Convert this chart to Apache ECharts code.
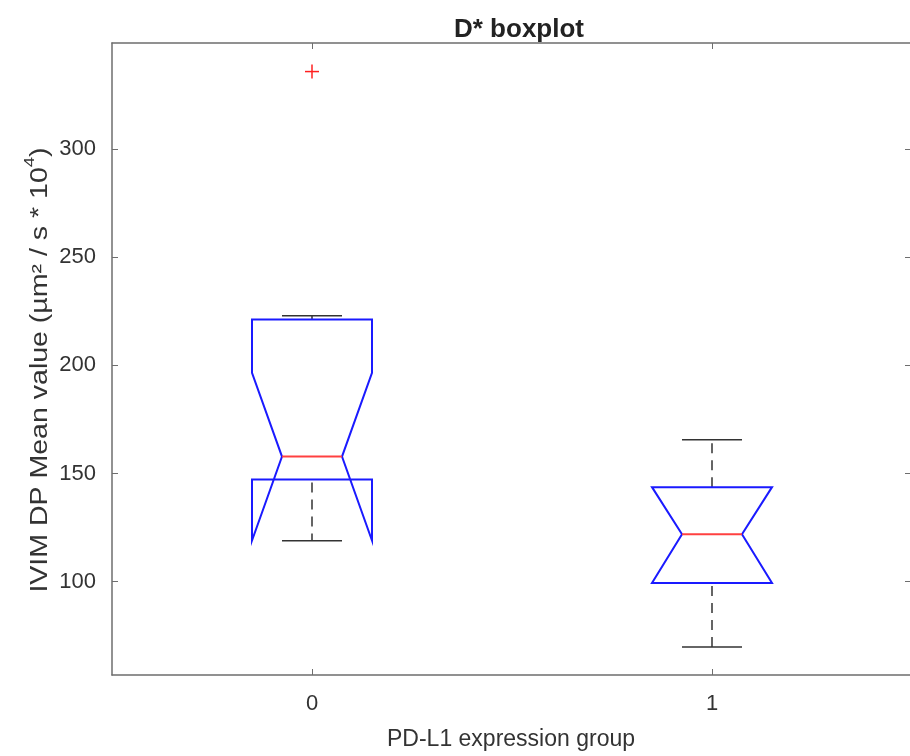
<!DOCTYPE html>
<html>
<head>
<meta charset="utf-8">
<script src="https://cdn.jsdelivr.net/npm/echarts@6/dist/echarts.min.js"></script>
<style>html,body{margin:0;padding:0;background:#fff;overflow:hidden;width:100%;height:100%;} #chart{width:100vw;height:100vh;}</style>
</head>
<body>
<div id="chart"></div>
<script>
// groups (x positions) and box statistics
var groups = [0, 1];
var whiskerLow = [118.9, 69.8];
var q1 = [147.2, 99.4];
var median = [157.8, 121.9];
var q3 = [221.1, 143.7];
var notchLow = [119.0, 99.4];
var notchHigh = [196.5, 143.7];
var whiskerHigh = [222.9, 165.6];
// outliers
var outlierGroup = [0];
var outlierValue = [335.7];
// ticks
var yTicks = [100, 150, 200, 250, 300];
var xTicks = [0, 1];

var boxData = groups.map(function (g, i) {
    return [g, whiskerLow[i], q1[i], median[i], q3[i], notchLow[i], notchHigh[i], whiskerHigh[i]];
});
var outlierData = outlierGroup.map(function (g, i) {
    return [g, outlierValue[i]];
});

var font = "'Liberation Sans', Arial, sans-serif";
var axisColor = '#6e6e6e';
var textColor = '#333';

function renderBox(params, api) {
    var x = api.value(0);
    var unit = api.size([1, 0])[0];
    var half = unit * 0.15;
    var inner = unit * 0.075;
    var cx = api.coord([x, 0])[0];
    var y = function (v) { return api.coord([x, v])[1]; };
    var wLo = y(api.value(1)), b1 = y(api.value(2)), md = y(api.value(3)), b3 = y(api.value(4));
    var nLo = y(api.value(5)), nHi = y(api.value(6)), wHi = y(api.value(7));
    var L = cx - half, R = cx + half;
    var whisk = { stroke: '#333', lineWidth: 1.5, lineDash: [10, 7], fill: null };
    var cap = { stroke: '#333', lineWidth: 1.5, fill: null };
    return {
        type: 'group',
        children: [
            { type: 'line', shape: { x1: cx, y1: b3, x2: cx, y2: wHi }, style: whisk },
            { type: 'line', shape: { x1: cx, y1: b1 + 3, x2: cx, y2: wLo }, style: whisk },
            { type: 'line', shape: { x1: cx - inner, y1: wHi, x2: cx + inner, y2: wHi }, style: cap },
            { type: 'line', shape: { x1: cx - inner, y1: wLo, x2: cx + inner, y2: wLo }, style: cap },
            {
                type: 'polygon',
                shape: { points: [[L, b3], [R, b3], [R, nHi], [cx + inner, md], [R, nLo], [R, b1], [L, b1], [L, nLo], [cx - inner, md], [L, nHi]] },
                style: { fill: null, stroke: '#1a1aff', lineWidth: 2 }
            },
            { type: 'line', shape: { x1: cx - inner, y1: md, x2: cx + inner, y2: md }, style: { stroke: '#ff4040', lineWidth: 2, fill: null } }
        ]
    };
}

function renderOutlier(params, api) {
    var p = api.coord([api.value(0), api.value(1)]);
    var s = 7;
    var st = { stroke: '#ff2020', lineWidth: 1.5, fill: null };
    return {
        type: 'group',
        children: [
            { type: 'line', shape: { x1: p[0] - s, y1: p[1], x2: p[0] + s, y2: p[1] }, style: st },
            { type: 'line', shape: { x1: p[0], y1: p[1] - s, x2: p[0], y2: p[1] + s }, style: st }
        ]
    };
}

var myChart = echarts.init(document.getElementById('chart'));

var option = {
    backgroundColor: '#fff',
    animation: false,
    title: {
        text: 'D* boxplot',
        left: 514,
        textAlign: 'center',
        top: 12,
        textStyle: { fontFamily: font, fontSize: 26, fontWeight: 'bold', color: '#222' }
    },
    // y axis title, stretched along its length like the source figure
    graphic: [{
        type: 'text',
        x: 37,
        y: 370,
        rotation: Math.PI / 2,
        scaleX: 1.24,
        style: {
            text: '{a|IVIM DP Mean value (µm² / s * 10}{s|4}{a|)}',
            align: 'center',
            verticalAlign: 'middle',
            fill: textColor,
            rich: {
                a: { fontFamily: font, fontSize: 23, color: textColor, lineHeight: 30, verticalAlign: 'bottom' },
                s: { fontFamily: font, fontSize: 15, color: textColor, lineHeight: 30, verticalAlign: 'top' }
            }
        }
    }],
    // the right border of the frame sits just past the edge of the picture
    grid: { left: 112, right: 0, top: 43, bottom: 78 },
    xAxis: [{
        type: 'value',
        min: -0.5,
        max: 1.495,
        position: 'bottom',
        axisLine: { show: true, onZero: false, lineStyle: { color: axisColor, width: 1.5 } },
        axisTick: { show: true, inside: true, length: 6, customValues: xTicks, lineStyle: { color: axisColor } },
        axisLabel: { customValues: xTicks, fontFamily: font, fontSize: 22, color: textColor, margin: 18 },
        splitLine: { show: false },
        name: 'PD-L1 expression group',
        nameLocation: 'middle',
        nameGap: 53,
        nameTextStyle: { fontFamily: font, fontSize: 23, color: textColor }
    }, {
        type: 'value',
        min: -0.5,
        max: 1.495,
        position: 'top',
        axisLine: { show: true, onZero: false, lineStyle: { color: axisColor, width: 1.5 } },
        axisTick: { show: true, inside: true, length: 6, customValues: xTicks, lineStyle: { color: axisColor } },
        axisLabel: { show: false },
        splitLine: { show: false }
    }],
    yAxis: [{
        type: 'value',
        min: 56.9,
        max: 348.9,
        position: 'left',
        axisLine: { show: true, onZero: false, lineStyle: { color: axisColor, width: 1.5 } },
        axisTick: { show: true, inside: true, length: 6, customValues: yTicks, lineStyle: { color: axisColor } },
        axisLabel: { customValues: yTicks, fontFamily: font, fontSize: 22, color: textColor, margin: 16 },
        splitLine: { show: false }
    }, {
        type: 'value',
        min: 56.9,
        max: 348.9,
        position: 'right',
        axisLine: { show: false, onZero: false },
        axisTick: { show: true, inside: true, length: 5, customValues: yTicks, lineStyle: { color: axisColor } },
        axisLabel: { show: false },
        splitLine: { show: false }
    }],
    series: [{
        type: 'custom',
        renderItem: renderBox,
        data: boxData,
        encode: { x: 0, y: [1, 2, 3, 4, 5, 6, 7] }
    }, {
        type: 'custom',
        renderItem: renderOutlier,
        data: outlierData,
        encode: { x: 0, y: 1 }
    }]
};

myChart.setOption(option);
</script>
</body>
</html>
